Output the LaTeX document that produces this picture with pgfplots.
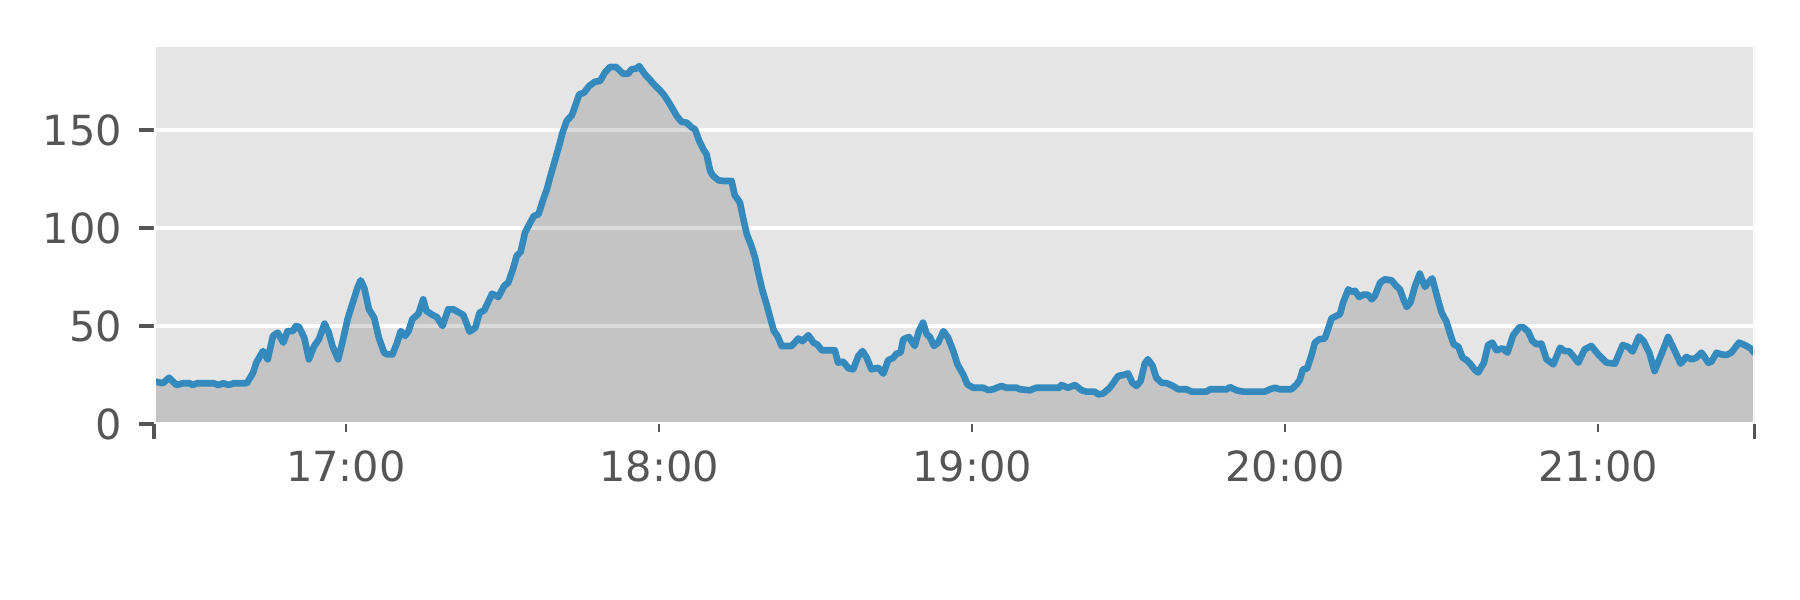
\documentclass[border=0pt]{standalone}
\usepackage{fontspec}
\setmainfont{DejaVu Sans}
\usepackage{pgfplots}
\usepackage{pgfplotstable}
\pgfplotsset{compat=1.18}
\definecolor{lineblue}{HTML}{348ABD}
\definecolor{bggray}{HTML}{E5E5E5}
\definecolor{tickgray}{HTML}{555555}

\pgfplotstableread{
m v
23.2 21.8
24.9 20.8
26.1 23.6
27.5 19.9
28.8 20.8
30.0 20.8
30.6 19.9
31.5 20.8
34.6 20.8
35.5 19.9
36.5 20.8
37.5 19.9
38.5 20.8
41.0 20.8
42.2 26.2
42.8 31.3
44.1 37.2
45.0 33.0
46.0 44.9
46.9 46.6
48.0 41.5
48.8 47.4
49.8 47.4
50.4 50.0
51.0 49.5
52.0 44.0
52.9 33.0
53.9 39.8
54.8 43.2
55.9 51.2
56.7 46.6
57.4 39.8
58.5 33.0
59.3 41.5
60.3 53.4
61.2 61.1
62.2 69.5
62.8 73.3
63.5 69.5
64.4 58.5
65.4 54.2
66.3 44.0
67.3 36.4
67.9 35.5
68.9 35.5
69.8 41.5
70.5 47.4
71.3 44.9
72.0 47.4
72.7 53.4
73.9 56.3
74.8 63.6
75.4 57.7
76.6 55.6
77.4 54.6
78.5 50.0
79.6 58.5
80.6 58.5
82.5 55.6
83.7 47.1
84.8 49.2
85.6 56.8
86.5 58.0
88.0 66.5
89.2 64.8
90.3 70.4
91.1 72.1
92.1 79.8
92.7 85.7
93.5 87.9
94.3 97.6
95.3 102.7
96.0 106.1
96.9 107.0
97.8 114.6
98.5 119.7
99.1 125.7
100.1 135.0
101.0 143.5
101.5 148.6
102.3 154.6
103.3 157.6
103.7 160.5
104.7 168.2
105.6 169.0
106.6 172.4
107.7 174.6
108.7 175.0
109.6 179.2
110.6 182.1
111.8 182.1
113.1 178.7
114.1 178.7
114.7 180.9
115.7 181.4
116.2 182.6
117.3 178.4
118.2 175.8
119.0 173.3
120.2 170.2
121.1 167.3
122.1 163.1
123.4 157.1
124.3 154.2
125.3 153.7
126.3 151.2
126.9 150.3
127.7 144.4
128.5 140.1
129.1 137.6
129.8 129.1
130.4 126.5
131.4 124.3
132.3 124.0
133.9 124.0
134.5 116.8
135.5 113.0
136.1 105.3
136.8 97.0
137.7 90.8
138.4 84.9
139.0 77.3
139.8 68.3
140.6 61.1
141.3 54.3
142.0 47.5
142.7 44.9
143.5 39.8
145.4 39.8
146.7 43.6
147.5 42.3
148.6 45.3
149.6 41.5
150.3 40.6
151.2 37.6
153.7 37.6
154.3 31.3
155.3 31.8
156.3 28.4
157.2 27.9
158.2 34.7
159.0 37.2
159.8 33.8
160.7 27.9
162.0 28.7
163.0 25.7
163.9 32.5
164.9 33.8
165.5 35.9
166.3 36.4
166.8 43.2
167.9 44.4
169.0 39.8
169.8 47.4
170.6 51.7
171.3 45.8
171.9 44.4
172.7 39.8
173.5 41.5
174.5 47.4
175.4 44.0
176.4 37.2
177.2 30.4
178.3 25.3
179.1 20.2
180.2 18.5
182.1 18.5
183.1 17.3
184.0 17.7
185.6 19.4
186.6 18.5
188.5 18.5
189.2 17.7
191.1 17.2
192.3 18.5
196.8 18.5
197.1 19.9
198.4 18.5
199.7 19.9
201.0 17.2
201.9 16.5
203.5 16.5
204.2 15.1
205.1 15.5
206.4 18.5
208.0 24.5
209.0 25.0
209.9 25.8
210.7 21.1
211.5 19.4
212.3 21.9
213.1 30.8
213.7 33.0
214.6 29.6
215.3 23.6
216.3 21.1
217.3 20.8
218.5 19.4
219.5 17.7
221.1 17.7
222.1 16.5
224.9 16.5
225.6 17.7
228.8 17.7
229.4 18.8
230.7 17.2
231.9 16.5
236.1 16.5
237.1 17.7
238.0 18.5
239.0 17.7
241.2 17.7
242.2 20.2
242.8 22.5
243.4 27.9
244.2 28.2
245.1 35.5
245.7 41.5
246.5 43.2
247.6 43.6
248.2 48.3
248.9 53.9
249.8 55.1
250.5 56.0
251.1 61.9
252.1 68.7
252.7 67.5
253.4 67.9
254.2 64.8
254.9 65.9
255.9 65.9
256.6 63.6
257.2 65.4
258.2 72.1
259.1 73.8
260.4 73.3
261.3 70.4
262.0 68.7
262.8 62.8
263.3 59.7
264.0 61.9
264.9 70.4
265.8 76.7
266.8 69.9
267.4 72.1
268.2 74.3
269.0 66.2
270.0 56.8
270.9 52.3
271.6 46.2
272.3 40.7
273.2 39.4
274.0 33.9
274.8 32.6
275.5 30.6
276.4 27.5
277.0 26.3
278.1 31.3
278.9 40.3
279.7 41.5
280.5 37.6
281.7 38.6
282.6 36.4
283.7 45.3
284.9 49.4
285.6 49.4
286.6 47.1
287.4 42.3
288.2 40.7
289.1 41.0
290.1 33.0
291.4 30.4
292.7 38.9
293.6 37.2
294.4 37.2
295.2 34.7
296.2 31.3
297.4 38.1
298.7 39.8
300.0 35.5
301.6 31.3
303.2 30.8
304.7 40.3
305.7 39.4
306.6 37.0
307.8 44.6
308.7 42.3
309.8 36.4
310.8 27.0
312.1 35.5
313.4 44.4
314.4 38.9
315.8 30.8
316.9 34.2
317.9 33.0
318.8 33.8
319.8 36.4
321.1 31.3
321.7 31.8
322.7 36.4
323.6 35.5
324.6 35.2
325.5 36.4
327.0 41.5
328.1 40.3
329.2 38.6
330.0 36.0
}\datatable

\begin{document}
\begin{tikzpicture}
\path[use as bounding box] (-0.5133in,-0.5867in) rectangle (5.4867in,1.4133in);
\begin{axis}[
  at={(0,0)}, anchor=south west,
  width=5.3357in, height=1.2643in, scale only axis,
  xmin=23.2, xmax=330.0, ymin=0, ymax=193.5,
  axis background/.style={fill=bggray},
  axis line style={draw=none},
  tick align=outside, xtick pos=bottom, ytick pos=left,
  major tick length=3.5pt,
  xtick={23.2,330.0}, xticklabels={,},
  extra x ticks={60,120,180,240,300},
  extra x tick labels={17:00,18:00,19:00,20:00,21:00},
  extra x tick style={major tick length=2pt, tick style={line width=0.6pt}},
  ytick={0,50,100,150},
  /pgf/number format/assume math mode=true,
  ymajorgrids, grid style={white, line width=0.8pt},
  tick style={color=tickgray, line width=0.8pt},
  tick label style={font=\fontsize{10}{12}\selectfont, color=tickgray},
  yticklabel style={xshift=-0.7pt},
  xticklabel style={yshift=-0.8pt},
]
\addplot[draw=none, fill=black, fill opacity=0.14] table[x=m,y=v] {\datatable} \closedcycle;
\addplot[draw=lineblue, line width=1.6pt, line join=round] table[x=m,y=v] {\datatable};
\draw[white, line width=1pt] (rel axis cs:0,0) rectangle (rel axis cs:1,1);
\end{axis}
\end{tikzpicture}
\end{document}
